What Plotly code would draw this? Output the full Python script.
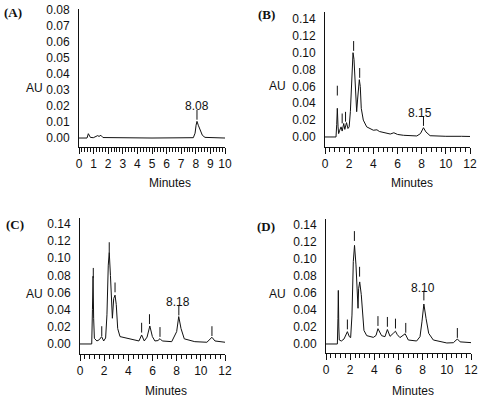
import plotly.graph_objects as go

# ---------------- data ----------------
# Panel A
a_t = [0, 0.55, 0.64, 0.78, 0.98, 1.14, 1.28, 1.37, 1.5, 1.64, 3.15, 5.0, 7.83, 7.95, 8.02, 8.08, 8.17, 8.29, 8.45, 8.63, 10.0]
a_au = [0, 0, 0.0027, 0.0004, 0.0002, 0.0008, 0.0015, 0.001, 0.0017, 0.0003, 0, 0, 0.0002, 0.003, 0.008, 0.0104, 0.008, 0.005, 0.0017, 0.0004, 0]
a_peak_t = [8.08]
a_peak_au = [0.0145]
a_label = "8.08"
a_label_t, a_label_au = 8.1, 0.0198

# Panel B
b_t = [0, 0.91, 0.97, 1.02, 1.08, 1.13, 1.22, 1.33, 1.42, 1.55, 1.64, 1.78, 1.9, 2.0, 2.1, 2.2, 2.27, 2.32, 2.4, 2.5, 2.62, 2.7, 2.84, 2.92, 3.0, 3.17, 3.45, 4.0, 4.3, 4.5, 5.1, 5.4, 5.7, 6.0, 6.5, 7.6, 7.9, 8.15, 8.35, 8.7, 10.0, 10.8, 11.0, 11.3, 12.0]
b_au = [0, 0, 0.015, 0.034, 0.012, 0.004, 0.008, 0.012, 0.007, 0.016, 0.009, 0.017, 0.01, 0.012, 0.03, 0.06, 0.088, 0.1, 0.092, 0.06, 0.03, 0.045, 0.068, 0.06, 0.034, 0.02, 0.012, 0.008, 0.0085, 0.0065, 0.005, 0.0035, 0.005, 0.003, 0.002, 0.0012, 0.004, 0.011, 0.006, 0.0015, 0.0008, 0.0008, 0.0015, 0.0008, 0.0006]
b_peak_t = [1.02, 1.42, 1.7, 2.37, 2.87, 8.15]
b_peak_au = [0.055, 0.022, 0.024, 0.108, 0.076, 0.019]
b_label = "8.15"
b_label_t, b_label_au = 7.85, 0.0285

# Panel C
c_t = [0, 0.97, 1.03, 1.08, 1.13, 1.19, 1.4, 1.6, 1.79, 1.96, 2.12, 2.23, 2.34, 2.42, 2.52, 2.62, 2.68, 2.79, 2.9, 3.0, 3.12, 3.31, 4.0, 4.55, 4.88, 5.1, 5.32, 5.55, 5.78, 5.99, 6.2, 6.45, 6.62, 6.81, 7.59, 8.0, 8.17, 8.36, 8.63, 9.5, 10.5, 10.92, 11.17, 12.0]
c_au = [0, 0, 0.04, 0.079, 0.03, 0.0066, 0.0035, 0.005, 0.0086, 0.0035, 0.007, 0.034, 0.092, 0.107, 0.08, 0.053, 0.03, 0.053, 0.057, 0.046, 0.018, 0.0086, 0.006, 0.0047, 0.0035, 0.0105, 0.0035, 0.008, 0.021, 0.0086, 0.0035, 0.004, 0.0062, 0.0035, 0.0027, 0.0144, 0.032, 0.018, 0.006, 0.0027, 0.002, 0.0078, 0.0035, 0.002]
c_peak_t = [1.1, 1.8, 2.42, 2.9, 5.1, 5.75, 6.62, 8.18, 10.92]
c_peak_au = [0.083, 0.015, 0.113, 0.066, 0.019, 0.029, 0.014, 0.039, 0.015]
c_label = "8.18"
c_label_t, c_label_au = 8.14, 0.049

# Panel D
d_t = [0, 0.94, 0.99, 1.02, 1.06, 1.1, 1.27, 1.49, 1.77, 1.93, 2.04, 2.15, 2.26, 2.36, 2.48, 2.59, 2.65, 2.7, 2.79, 2.92, 3.03, 3.14, 3.37, 3.92, 4.14, 4.3, 4.6, 4.88, 5.08, 5.3, 5.6, 5.75, 5.9, 6.12, 6.55, 6.81, 7.5, 7.78, 7.94, 8.1, 8.28, 8.5, 8.88, 10.0, 10.54, 10.87, 11.1, 12.0]
d_au = [0, 0, 0.03, 0.063, 0.02, 0.0047, 0.0035, 0.0059, 0.0145, 0.0086, 0.0075, 0.034, 0.097, 0.116, 0.093, 0.05, 0.042, 0.065, 0.073, 0.058, 0.034, 0.016, 0.0098, 0.0078, 0.01, 0.018, 0.0098, 0.0086, 0.017, 0.009, 0.013, 0.015, 0.011, 0.0075, 0.012, 0.0047, 0.0035, 0.0086, 0.026, 0.047, 0.03, 0.0125, 0.0047, 0.0012, 0.0015, 0.0059, 0.0025, 0.0016]
d_peak_t = [1.77, 2.35, 2.78, 4.3, 5.08, 5.75, 6.6, 8.1, 10.87]
d_peak_au = [0.023, 0.127, 0.085, 0.027, 0.026, 0.024, 0.019, 0.057, 0.013]
d_label = "8.10"
d_label_t, d_label_au = 8.0, 0.066

panel_names = ["(A)", "(B)", "(C)", "(D)"]
y_label = "AU"
x_label = "Minutes"

# ---------------- layout constants (pixels) ----------------
W, H = 482, 398
FONT = "Liberation Sans, Arial, sans-serif"
INK = "#111111"

panels = [
    dict(t=a_t, au=a_au, pt=a_peak_t, pau=a_peak_au, lab=a_label, lt=a_label_t, lau=a_label_au,
         px=(79, 225), py=(146.5, 9), xr=[0, 10], yr=[-0.0053, 0.0806], xd=1, xm=0.2, yd=0.01),
    dict(t=b_t, au=b_au, pt=b_peak_t, pau=b_peak_au, lab=b_label, lt=b_label_t, lau=b_label_au,
         px=(325, 470), py=(147, 12), xr=[0, 12], yr=[-0.0119, 0.1483], xd=2, xm=0.4, yd=0.02),
    dict(t=c_t, au=c_au, pt=c_peak_t, pau=c_peak_au, lab=c_label, lt=c_label_t, lau=c_label_au,
         px=(80, 225), py=(354, 218), xr=[0, 12], yr=[-0.0117, 0.147], xd=2, xm=0.4, yd=0.02),
    dict(t=d_t, au=d_au, pt=d_peak_t, pau=d_peak_au, lab=d_label, lt=d_label_t, lau=d_label_au,
         px=(326, 471), py=(353, 219), xr=[0, 12], yr=[-0.0106, 0.147], xd=2, xm=0.4, yd=0.02),
]

# positions of panel letters, AU and Minutes labels (pixels)
letter_pos = [(13, 13), (266, 14), (15, 225), (266, 226)]
au_pos = [(34, 88), (277, 86), (34, 294), (277, 294)]
min_pos = [(170, 183), (412, 183), (166, 391), (413, 391)]

fig = go.Figure()
layout = dict(width=W, height=H, autosize=False, margin=dict(l=0, r=0, t=0, b=0),
              paper_bgcolor="white", plot_bgcolor="white", showlegend=False,
              font=dict(family=FONT, size=12, color=INK))
annotations = []

for i, p in enumerate(panels):
    n = "" if i == 0 else str(i + 1)
    xa, ya = "x" + n, "y" + n
    fig.add_trace(go.Scatter(x=p["t"], y=p["au"], mode="lines", xaxis=xa, yaxis=ya,
                             line=dict(color=INK, width=1), hoverinfo="skip"))
    fig.add_trace(go.Scatter(x=p["pt"], y=p["pau"], mode="markers", xaxis=xa, yaxis=ya,
                             marker=dict(symbol="line-ns", size=7, line=dict(color=INK, width=1)),
                             hoverinfo="skip"))
    layout["xaxis" + n] = dict(
        domain=[p["px"][0] / W, p["px"][1] / W], range=p["xr"], anchor=ya,
        showline=True, linecolor=INK, linewidth=1, showgrid=False, zeroline=False,
        ticks="outside", ticklen=6, tickwidth=1, tickcolor=INK, dtick=p["xd"], tick0=0,
        minor=dict(ticks="outside", ticklen=4, tickwidth=1, tickcolor=INK, dtick=p["xm"], tick0=0, showgrid=False),
        tickfont=dict(size=12, family=FONT, color=INK), automargin=False, fixedrange=True)
    layout["yaxis" + n] = dict(
        domain=[1 - p["py"][0] / H, 1 - p["py"][1] / H], range=p["yr"], anchor=xa,
        showline=True, linecolor=INK, linewidth=1, showgrid=False, zeroline=False,
        ticks="", dtick=p["yd"], tick0=0, tickformat=".2f", ticklabelstandoff=6,
        tickfont=dict(size=12, family=FONT, color=INK), automargin=False, fixedrange=True)
    annotations.append(dict(x=p["lt"], y=p["lau"], xref=xa, yref=ya, text=p["lab"], showarrow=False,
                            font=dict(size=12, family=FONT, color=INK)))
    lx, ly = letter_pos[i]
    annotations.append(dict(x=lx / W, y=1 - ly / H, xref="paper", yref="paper", text="<b>" + panel_names[i] + "</b>",
                            showarrow=False, xanchor="center", yanchor="middle",
                            font=dict(size=13, family="Liberation Serif, Times New Roman, serif", color=INK)))
    ax_, ay_ = au_pos[i]
    annotations.append(dict(x=ax_ / W, y=1 - ay_ / H, xref="paper", yref="paper", text=y_label,
                            showarrow=False, xanchor="center", yanchor="middle",
                            font=dict(size=12, family=FONT, color=INK)))
    mx, my = min_pos[i]
    annotations.append(dict(x=mx / W, y=1 - my / H, xref="paper", yref="paper", text=x_label,
                            showarrow=False, xanchor="center", yanchor="middle",
                            font=dict(size=12, family=FONT, color=INK)))

layout["annotations"] = annotations
fig.update_layout(**layout)
fig.write_html("out.html", config={"displayModeBar": False, "staticPlot": True},
               post_script="document.body.style.margin='0';document.body.style.overflow='hidden';")
